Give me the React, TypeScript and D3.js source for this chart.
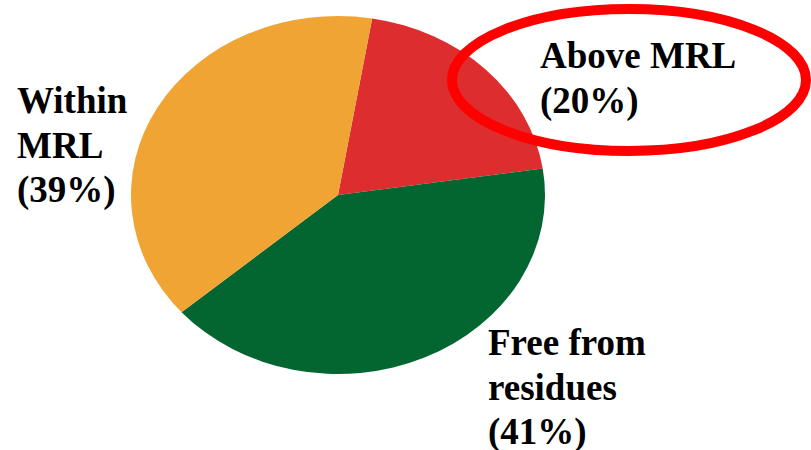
import React from "react";
import * as d3 from "d3";

const categories = ["Above MRL", "Free from residues", "Within MRL"];
const values = [20, 41, 39];
const colors = ["#DD2D2E", "#036530", "#F0A434"];

const labelLines = [
  ["Above MRL", "(20%)"],
  ["Free from", "residues", "(41%)"],
  ["Within", "MRL", "(39%)"],
];
const labelPos = [
  { x: 540, y: 68 },
  { x: 488, y: 355 },
  { x: 17, y: 113 },
];

export default function App() {
  const W = 811, H = 450;
  const cx = 338, cy = 195, rx = 207, ry = 179;
  const start = (9.5 * Math.PI) / 180;
  const pie = d3.pie<number>().sort(null).startAngle(start).endAngle(start + 2 * Math.PI);
  const arcs = pie(values);
  const arc = d3.arc<d3.PieArcDatum<number>>().innerRadius(0).outerRadius(ry);
  const lh = 44.5;
  return (
    <svg width={W} height={H} style={{ position: "absolute", left: 0, top: 0, background: "#fff" }}>
      <g transform={`translate(${cx},${cy}) scale(${rx / ry},1)`}>
        {arcs.map((a, i) => (
          <path key={categories[i]} d={arc(a) || ""} fill={colors[i]} />
        ))}
      </g>
      <ellipse cx={629} cy={80} rx={177} ry={71} fill="none" stroke="#FF0000" strokeWidth={10} />
      {labelLines.map((lines, i) => (
        <text
          key={categories[i]}
          x={labelPos[i].x}
          y={labelPos[i].y}
          fontFamily="'Liberation Serif', 'Times New Roman', serif"
          fontWeight="bold"
          fontSize={37}
          fill="#000"
        >
          {lines.map((l, j) => (
            <tspan key={j} x={labelPos[i].x} y={labelPos[i].y + j * lh}>
              {l}
            </tspan>
          ))}
        </text>
      ))}
    </svg>
  );
}
